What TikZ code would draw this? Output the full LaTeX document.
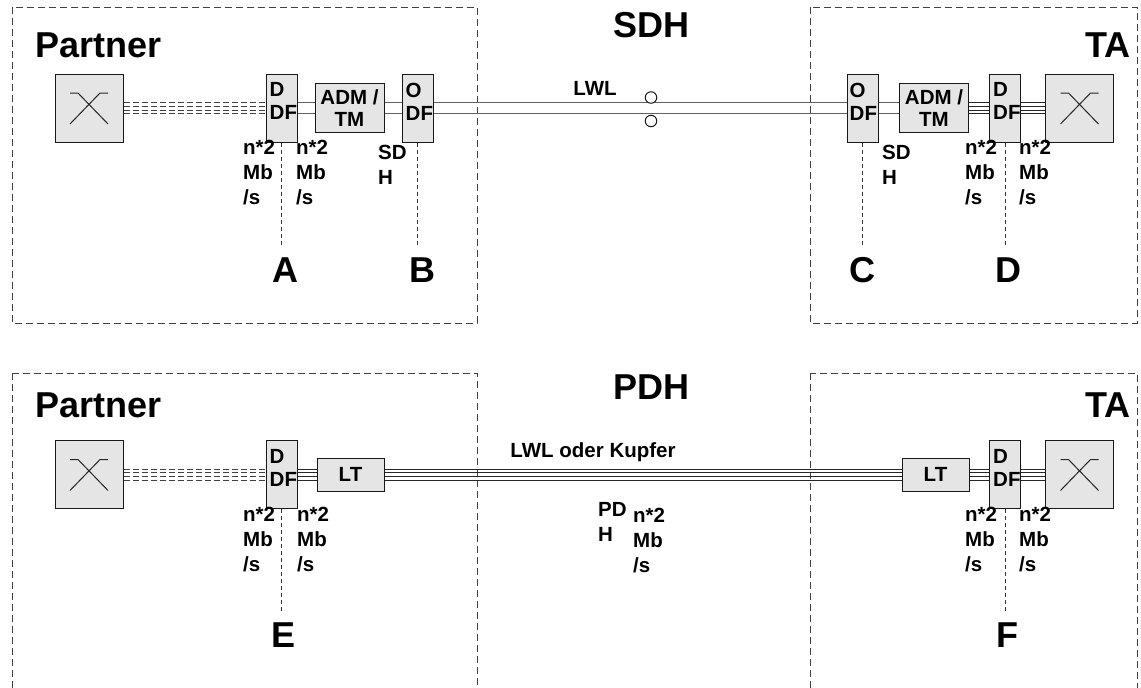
\documentclass[tikz,border=0pt]{standalone}
\usepackage{fontspec}
\setmainfont{Liberation Sans}
\usetikzlibrary{positioning,calc}

\newcommand{\quadlink}[3]{\foreach \d in {-5.5,-2,2,5.5}{\draw[#1] ([yshift=\d pt]#2.east) -- ([yshift=\d pt]#3.west);}}
\newcommand{\duallink}[2]{\foreach \d in {-5.5,5.5}{\draw[fibre] ([yshift=\d pt]#1.east) -- ([yshift=\d pt]#2.west);}}
\newcommand{\xsym}[1]{%
  \draw[black!85, line width=1pt] ($(#1.center)+(-19,-15)$) -- ++(8,0) -- ($(#1.center)+(19,16)$);
  \draw[black!85, line width=1pt] ($(#1.center)+(19,-15)$) -- ++(-8,0) -- ($(#1.center)+(-19,16)$);}

\begin{document}
\begin{tikzpicture}[x=1pt,y=-1pt,
    region/.style={draw=black!75, dash pattern=on 7pt off 4pt, line width=0.8pt},
    unit/.style={draw=black!90, fill=black!10, line width=1pt, inner sep=0pt},
    swbox/.style={unit, minimum width=68pt, minimum height=68pt},
    dfbox/.style={unit, minimum width=31pt, minimum height=68pt},
    eqbox/.style={unit, minimum width=69pt, minimum height=49pt, align=center,
                  font=\fontsize{20.5}{22}\selectfont\bfseries},
    ltbox/.style={unit, minimum width=67pt, minimum height=33pt,
                  font=\fontsize{20.5}{22}\selectfont\bfseries},
    boxtxt/.style={inner sep=0pt, anchor=north west, align=left,
                   font=\fontsize{20.5}{23}\selectfont\bfseries},
    lbl/.style={inner sep=0pt, anchor=north west, align=left,
                font=\fontsize{20.5}{25}\selectfont\bfseries},
    big/.style={inner sep=0pt, anchor=base, font=\fontsize{36}{40}\selectfont\bfseries},
    mid/.style={inner sep=0pt, anchor=base, font=\fontsize{20.5}{24}\selectfont\bfseries},
    fibre/.style={draw=black!62, line width=1.8pt},
    wire/.style={draw=black!85, line width=1pt},
    tail/.style={draw=black!75, line width=1pt, dash pattern=on 6pt off 3pt},
    tap/.style={draw=black!80, dash pattern=on 4pt off 3pt, line width=0.8pt},
    ring/.style={circle, draw=black!90, fill=white, line width=1pt,
                 minimum size=11.5pt, inner sep=0pt}
  ]
    \useasboundingbox (0,0) rectangle (1141,688);
    \clip (0,0) rectangle (1141,688);

    % regions
    \draw[region] (12,7) rectangle (477,323);
    \draw[region] (810,7) rectangle (1137,323);
    \draw[region] (12,373) rectangle (477,720);
    \draw[region] (810,373) rectangle (1137,720);

    % SDH
    \node[big, anchor=base west] (partnerS) at (35,57) {Partner};
    \node[big] (sdh) at (651,37) {SDH};
    \node[big, anchor=base east] (taS) at (1131,57) {TA};

    \node[swbox] (swP) at (89,108) {};
    \node[dfbox] (ddfP) at (281.5,108) {};
    \node[boxtxt] (ddfPt) at ([shift={(4,9)}]ddfP.north west) {D\\DF};
    \node[eqbox] (admP) at (349.5,108) {ADM /\\TM};
    \node[dfbox] (odfP) at (417.5,108) {};
    \node[boxtxt] (odfPt) at ([shift={(4,9)}]odfP.north west) {O\\DF};

    \node[dfbox] (odfT) at (862.5,108) {};
    \node[boxtxt] (odfTt) at ([shift={(3,9)}]odfT.north west) {O\\DF};
    \node[eqbox] (admT) at (934,108) {ADM /\\TM};
    \node[dfbox] (ddfT) at (1005,108) {};
    \node[boxtxt] (ddfTt) at ([shift={(4,9)}]ddfT.north west) {D\\DF};
    \node[swbox] (swT) at (1079.5,108) {};
    \xsym{swP}
    \xsym{swT}

    \quadlink{tail}{swP}{ddfP}
    \duallink{ddfP}{admP}
    \duallink{admP}{odfP}
    \duallink{odfP}{odfT}
    \duallink{odfT}{admT}
    \quadlink{wire}{admT}{ddfT}
    \quadlink{wire}{ddfT}{swT}

    \node[mid] (lwl) at (595,95) {LWL};
    \node[ring] (ringU) at (651,97.5) {};
    \node[ring] (ringL) at (651,121) {};

    \node[lbl] (rateP1) at (243,140) {n*2\\Mb\\/s};
    \node[lbl] (rateP2) at (296,140) {n*2\\Mb\\/s};
    \node[lbl] (sdhP) at (378,145) {SD\\H};
    \node[lbl] (sdhT) at (882,145) {SD\\H};
    \node[lbl] (rateT1) at (965,140) {n*2\\Mb\\/s};
    \node[lbl] (rateT2) at (1019,140) {n*2\\Mb\\/s};

    \node[big] (A) at (285,282) {A};
    \node[big] (B) at (422,282) {B};
    \node[big] (C) at (862,282) {C};
    \node[big] (D) at (1008,282) {D};
    \draw[tap] (ddfP.south) -- ($(ddfP.south |- A.north)+(0,-10)$);
    \draw[tap] (odfP.south) -- ($(odfP.south |- B.north)+(0,-10)$);
    \draw[tap] (odfT.south) -- ($(odfT.south |- C.north)+(0,-10)$);
    \draw[tap] (ddfT.south) -- ($(ddfT.south |- D.north)+(0,-10)$);

    % PDH
    \node[big, anchor=base west] (partnerP) at (35,417) {Partner};
    \node[big] (pdh) at (651,399) {PDH};
    \node[big, anchor=base east] (taP) at (1131,417) {TA};

    \node[swbox] (swP2) at (89,474.5) {};
    \node[dfbox] (ddfP2) at (281.5,474.5) {};
    \node[boxtxt] (ddfP2t) at ([shift={(4,9)}]ddfP2.north west) {D\\DF};
    \node[ltbox] (ltP) at (350.5,474.5) {LT};
    \node[ltbox] (ltT) at (935.5,474.5) {LT};
    \node[dfbox] (ddfT2) at (1005,474.5) {};
    \node[boxtxt] (ddfT2t) at ([shift={(4,9)}]ddfT2.north west) {D\\DF};
    \node[swbox] (swT2) at (1079.5,474.5) {};
    \xsym{swP2}
    \xsym{swT2}

    \quadlink{tail}{swP2}{ddfP2}
    \quadlink{wire}{ddfP2}{ltP}
    \quadlink{wire}{ltP}{ltT}
    \quadlink{wire}{ltT}{ddfT2}
    \quadlink{wire}{ddfT2}{swT2}

    \node[mid] (medium) at (593,457) {LWL oder Kupfer};

    \node[lbl] (rateP3) at (243,507) {n*2\\Mb\\/s};
    \node[lbl] (rateP4) at (297,507) {n*2\\Mb\\/s};
    \node[lbl] (pdhM) at (598,502) {PD\\H};
    \node[lbl] (rateM) at (633,508) {n*2\\Mb\\/s};
    \node[lbl] (rateT3) at (965,507) {n*2\\Mb\\/s};
    \node[lbl] (rateT4) at (1019,507) {n*2\\Mb\\/s};

    \node[big] (E) at (284,647) {E};
    \node[big] (F) at (1007,647) {F};
    \draw[tap] (ddfP2.south) -- ($(ddfP2.south |- E.north)+(0,-10)$);
    \draw[tap] (ddfT2.south) -- ($(ddfT2.south |- F.north)+(0,-10)$);
\end{tikzpicture}
\end{document}
